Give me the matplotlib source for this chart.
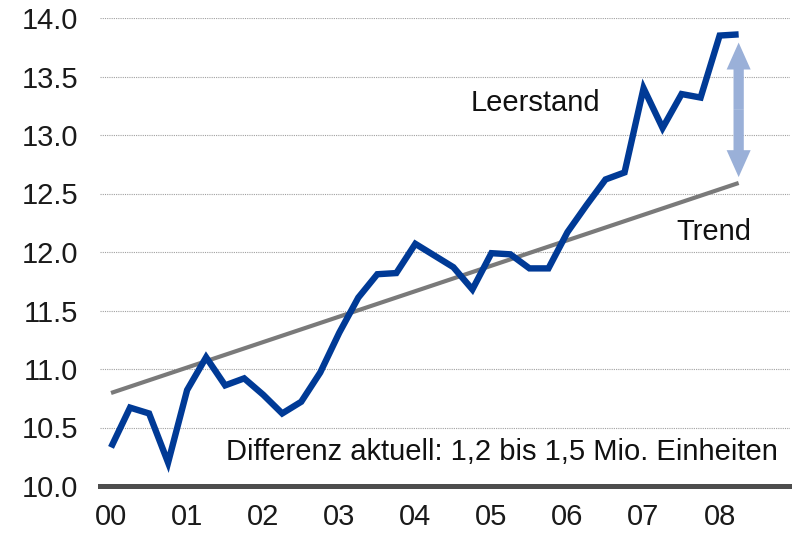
import matplotlib
matplotlib.use("Agg")
import matplotlib.pyplot as plt
from matplotlib.patches import FancyArrowPatch
import numpy as np

plt.rcParams['font.family'] = ['Liberation Sans', 'DejaVu Sans']

# Quarterly vacancy data, 2000Q1 .. 2008Q2
leerstand = [10.33, 10.67, 10.62, 10.20, 10.82, 11.10, 10.86, 10.92,
             10.78, 10.62, 10.72, 10.97, 11.31, 11.61, 11.81, 11.82,
             12.07, 11.97, 11.87, 11.68, 11.99, 11.98, 11.86, 11.86,
             12.17, 12.40, 12.62, 12.68, 13.40, 13.06, 13.35, 13.32,
             13.85, 13.86]
start_year = 2000
trend_start = 10.795
trend_end = 12.59
arrow_top = 13.79
arrow_bottom = 12.64
year_labels = ['00', '01', '02', '03', '04', '05', '06', '07', '08']
y_ticks = [10.0, 10.5, 11.0, 11.5, 12.0, 12.5, 13.0, 13.5, 14.0]

x = start_year + np.arange(len(leerstand)) / 4.0

fig = plt.figure(figsize=(7.92, 5.43), dpi=100)
ax = fig.add_axes([100/792, (543-486)/543, 690/792, (486-18)/543])

for yt in y_ticks[1:]:
    ax.axhline(yt, color='#a0a0a0', lw=0.8, ls=(0, (1, 1)), zorder=0)

ax.plot([x[0], x[-1]], [trend_start, trend_end], color='#7a7a7a', lw=3.0,
        solid_capstyle='butt', zorder=2)
ax.plot(x, leerstand, color='#003a96', lw=4.6, solid_joinstyle='miter',
        solid_capstyle='butt', zorder=3)

mid = (arrow_top + arrow_bottom) / 2
for end in (arrow_top, arrow_bottom):
    arr = FancyArrowPatch((x[-1], mid), (x[-1], end),
                          arrowstyle='simple,head_length=19.4,head_width=17.3,tail_width=7.4',
                          mutation_scale=1, shrinkA=0, shrinkB=0,
                          color='#9ab0d8', lw=0, zorder=4)
    ax.add_patch(arr)

ax.set_xlim(start_year - 0.145, start_year + 35.7/4)
ax.set_ylim(10.0, 14.0)
ax.set_xticks(np.arange(start_year, start_year + 9))
ax.set_xticklabels(year_labels)
ax.set_yticks(y_ticks)
ax.set_yticklabels([f'{v:.1f}' for v in y_ticks])
ax.tick_params(axis='both', length=0, labelsize=21, colors='#1a1a1a')
ax.tick_params(axis='y', pad=15.8)
ax.tick_params(axis='x', pad=12)

for s in ['top', 'right', 'left']:
    ax.spines[s].set_visible(False)
ax.spines['bottom'].set_color('#4d4d4d')
ax.spines['bottom'].set_linewidth(3.6)
ax.spines['bottom'].set_zorder(5)

ax.text(start_year + 22.3/4, 13.27, 'Leerstand', fontsize=21, ha='center', va='center', color='#111111')
ax.text(start_year + 31.7/4, 12.17, 'Trend', fontsize=21, ha='center', va='center', color='#111111')
ax.text(start_year + 35.05/4, 10.29, 'Differenz aktuell: 1,2 bis 1,5 Mio. Einheiten', fontsize=21,
        ha='right', va='center', color='#111111')

fig.savefig('out.png', dpi=100)
